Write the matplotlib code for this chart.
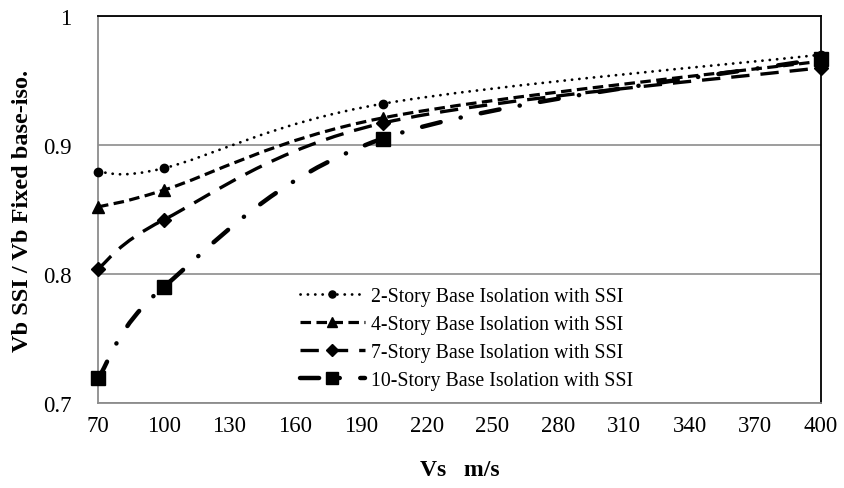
import matplotlib
matplotlib.use("Agg")
import matplotlib.pyplot as plt
import numpy as np
from matplotlib.path import Path
from matplotlib.patches import PathPatch
from matplotlib.lines import Line2D
from matplotlib.ticker import FuncFormatter

plt.rcParams['font.family'] = ['Liberation Serif', 'DejaVu Serif']

vs = [70, 100, 200, 400]
story2 = [0.879, 0.882, 0.932, 0.970]
story4 = [0.852, 0.865, 0.921, 0.965]
story7 = [0.804, 0.842, 0.917, 0.960]
story10 = [0.719, 0.790, 0.905, 0.967]
labels = ["2-Story Base Isolation with SSI", "4-Story Base Isolation with SSI",
          "7-Story Base Isolation with SSI", "10-Story Base Isolation with SSI"]
xticks = [70, 100, 130, 160, 190, 220, 250, 280, 310, 340, 370, 400]
yticks = [0.7, 0.8, 0.9, 1.0]

fig = plt.figure(figsize=(8.44, 4.89), dpi=100)
ax = fig.add_axes([98/844, 1-404/489, 723/844, 387/489])
ax.set_xlim(70, 400)
ax.set_ylim(0.7, 1.0)


def smooth_path(x, y):
    pts = np.column_stack([x, y]).astype(float)
    n = len(pts)
    verts = [pts[0]]
    codes = [Path.MOVETO]
    for i in range(n - 1):
        p0 = pts[i - 1] if i > 0 else pts[i]
        p1 = pts[i]
        p2 = pts[i + 1]
        p3 = pts[i + 2] if i + 2 < n else pts[i + 1]
        c1 = p1 + (p2 - p0) / 6.0
        c2 = p2 - (p3 - p1) / 6.0
        verts += [c1, c2, p2]
        codes += [Path.CURVE4] * 3
    return Path(verts, codes)

styles = [
    dict(ls=(0, (0.05, 2.6)), lw=2.0, cap='round', marker='o', ms=6),
    dict(ls=(0, (3.3, 1.7)), lw=2.3, cap='butt', marker='^', ms=8),
    dict(ls=(0, (5.5, 3.3)), lw=2.4, cap='butt', marker='D', ms=7.5),
    dict(ls=(0, (4.3, 4.6, 0.05, 4.6)), lw=3.2, cap='round', marker='s', ms=10),
]
series = [story2, story4, story7, story10]

handles = []
for ys, st, lab in zip(series, styles, labels):
    patch = PathPatch(smooth_path(vs, ys), fill=False, edgecolor='black',
                      linewidth=st['lw'], linestyle=st['ls'], capstyle=st['cap'],
                      zorder=3)
    ax.add_patch(patch)
    ax.plot(vs, ys, linestyle='none', marker=st['marker'], markersize=st['ms'],
            color='black', zorder=4, clip_on=False)
    h = Line2D([], [], color='black', linewidth=st['lw'], linestyle=st['ls'],
               dash_capstyle=st['cap'], marker=st['marker'], markersize=st['ms'] * 0.85)
    handles.append(h)

ax.set_xticks(xticks)
ax.set_yticks(yticks)
ax.yaxis.set_major_formatter(FuncFormatter(lambda v, p: f"{v:g}"))
ax.tick_params(length=0, labelsize=16.5)
ax.tick_params(axis='x', pad=9)
ax.tick_params(axis='y', pad=19)
ax.grid(axis='y', color='#8c8c8c', linewidth=1.2)
ax.set_axisbelow(True)
for s in ['left', 'bottom']:
    ax.spines[s].set_color('#8c8c8c')
    ax.spines[s].set_linewidth(1.3)
for s in ['top', 'right']:
    ax.spines[s].set_color('black')
    ax.spines[s].set_linewidth(1.3)

ax.set_xlabel("Vs   m/s", fontsize=17, fontweight='bold', labelpad=16)
ax.set_ylabel("Vb SSI / Vb Fixed base-iso.", fontsize=17.5, fontweight='bold')
ax.yaxis.set_label_coords(-0.09, 0.5)

leg = ax.legend(handles, labels, loc='upper left', bbox_to_anchor=(0.279, 0.30),
                frameon=False, fontsize=14.3, handlelength=3.3, handletextpad=0.3,
                labelspacing=0.45, borderpad=0, borderaxespad=0)

fig.savefig("out.png", dpi=100)
